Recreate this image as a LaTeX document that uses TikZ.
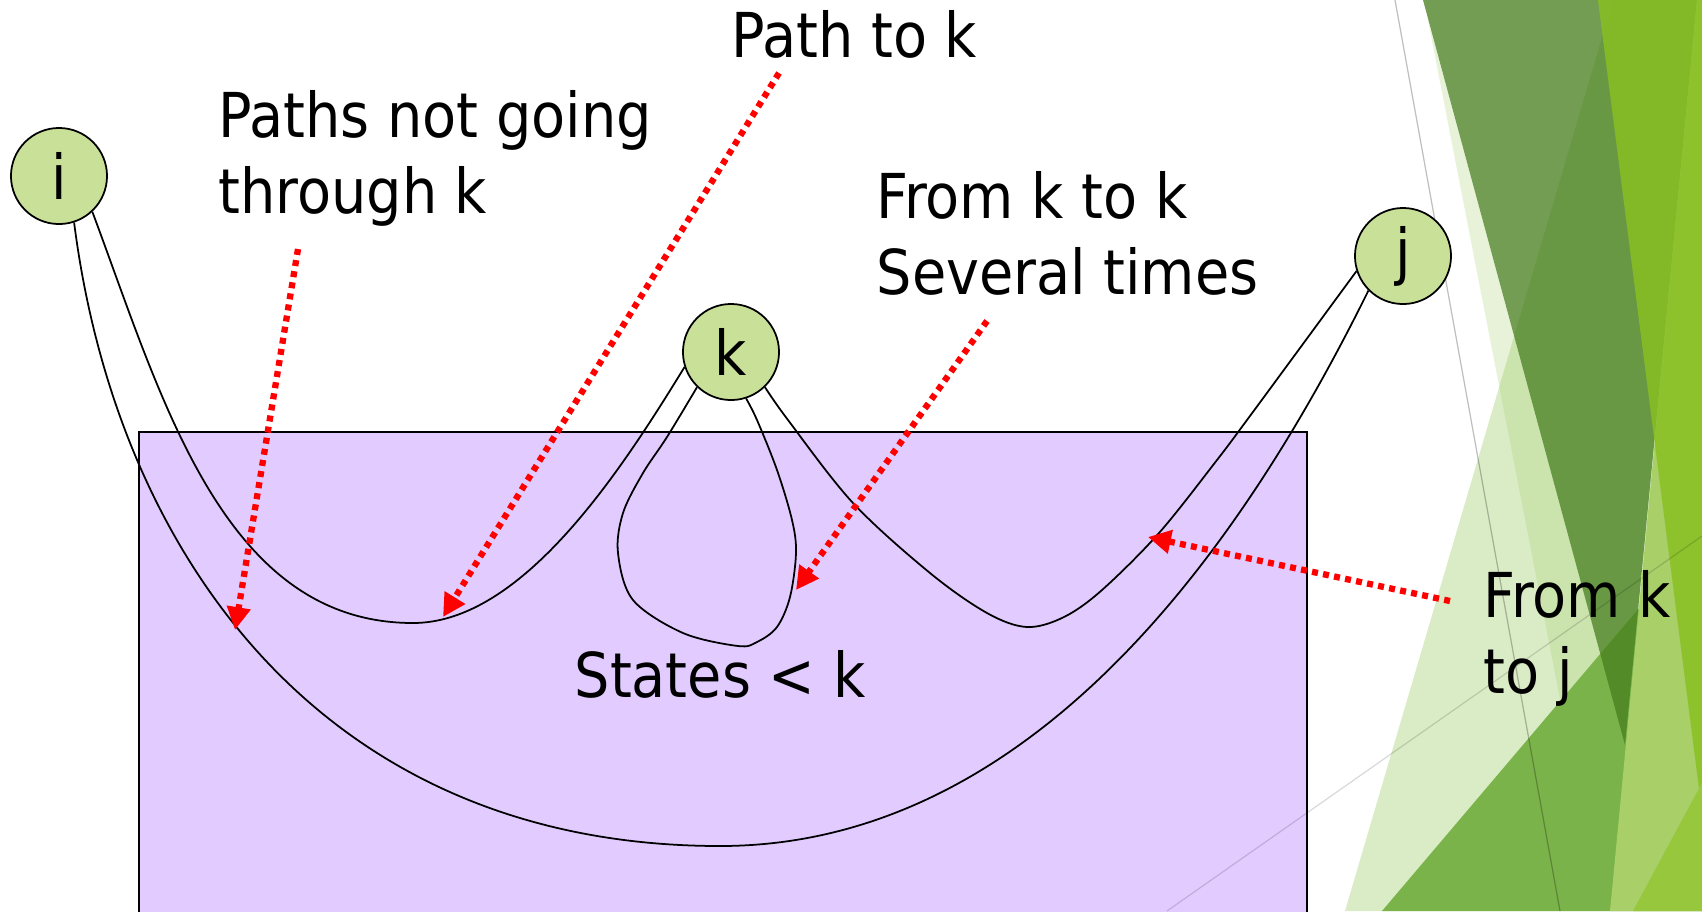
\documentclass[tikz,border=0pt]{standalone}
\usepackage{fontspec}
\setmainfont{DejaVu Sans Condensed}
\usetikzlibrary{arrows.meta}
\definecolor{nodegreen}{RGB}{201,224,152}
\definecolor{lilac}{RGB}{226,204,255}
\definecolor{leafgreen}{RGB}{150,200,90}
\definecolor{midgreen}{RGB}{122,179,74}
\definecolor{darkolive}{RGB}{72,128,30}
\definecolor{palegreen}{RGB}{168,207,104}
\definecolor{limegreen}{RGB}{137,192,34}
\definecolor{brightgreen}{RGB}{151,199,60}
\newcommand\lblfont{\fontsize{17.6pt}{21.6pt}\selectfont}

\begin{document}
\begin{tikzpicture}[
        x=0.01cm,y=-0.01cm,
        state/.style={circle,draw,line width=0.5pt,fill=nodegreen,
                      minimum size=0.96cm,inner sep=0pt,font=\lblfont},
        lbl/.style={anchor=base west,align=left,inner sep=0pt,font=\lblfont},
        walk/.style={line width=0.5pt},
        hint/.style={red,line width=1.8pt,dash pattern=on 1.7pt off 1.5pt,
                     -{Triangle[length=6.5pt,width=6.5pt]}}]
        \useasboundingbox (0,0) rectangle (1702,911);
        % facet background
        \fill[leafgreen,opacity=0.35] (1345,911) -- (1613,0) -- (1702,0) -- (1702,911) -- cycle;
        \fill[leafgreen,opacity=0.23] (1427,15) -- (1565,725) -- (1625,745) -- cycle;
        \fill[midgreen] (1382,911) -- (1702,534) -- (1702,911) -- cycle;
        \fill[darkolive,opacity=0.77] (1423,0) -- (1697,0) -- (1625,745) -- cycle;
        \fill[palegreen] (1697,0) -- (1702,0) -- (1702,911) -- (1610,911) -- cycle;
        \fill[limegreen,opacity=0.84] (1598,0) -- (1702,0) -- (1702,812) -- cycle;
        \fill[brightgreen] (1633,911) -- (1702,783) -- (1702,911) -- cycle;
        \draw[black,opacity=0.25,line width=0.35pt] (1395,0) -- (1560,911);
        % states < k
        \filldraw[fill=lilac,line width=0.6pt] (139,432) rectangle (1307,1000);
        \draw[black,opacity=0.15,line width=0.35pt] (1167,911) -- (1702,536);
        \node[state] (i) at (59,176) {i};
        \node[state] (k) at (731,352) {k};
        \node[state] (j) at (1403,256) {j};
        \draw[walk] (i.-47) .. controls (162,398) and (223,623) .. (413,623)
          .. controls (523,623) and (622,469) .. (k.-162);
        \draw[walk] (i.-72) .. controls (116,551) and (320,846) .. (720,846)
          .. controls (1050,846) and (1259,512) .. (j.-135);
        \draw[walk] plot[smooth,tension=0.55] coordinates {(k.-134) (667,437) (643,473)
          (623,513) (618,553) (633,600) (683,633) (738,646) (757,642) (777,627)
          (790,597) (796,553) (792,520) (777,470) (757,420) (k.-72)};
        \draw[walk] plot[smooth,tension=0.55] coordinates {(k.-46) (788,420) (853,503)
          (930,573) (987,613) (1027,627) (1064,617) (1102,590) (1159,533)
          (1217,460) (1247,420) (1300,348) (j.-162)};
        % labels
        \node[lbl] (pathk) at (731,57) {Path to k};
        \node[lbl] (notk) at (218,213) {Paths not going\\through k};
        \node[lbl] (ktok) at (876,294) {From k to k\\Several times};
        \node[lbl] (ktoj) at (1483,693) {From k\\to j};
        \node[lbl] (below) at (574,697) {States < k};
        % pointers
        \coordinate (s1) at (779,73);   \coordinate (e1) at (443,617);
        \coordinate (s2) at (298,249);  \coordinate (e2) at (235,630);
        \coordinate (s3) at (987,321);  \coordinate (e3) at (796,590);
        \coordinate (s4) at (1450,601); \coordinate (e4) at (1148,537);
        \draw[hint] (s1) -- (e1);
        \draw[hint] (s2) -- (e2);
        \draw[hint] (s3) -- (e3);
        \draw[hint] (s4) -- (e4);
      \end{tikzpicture}
\end{document}
